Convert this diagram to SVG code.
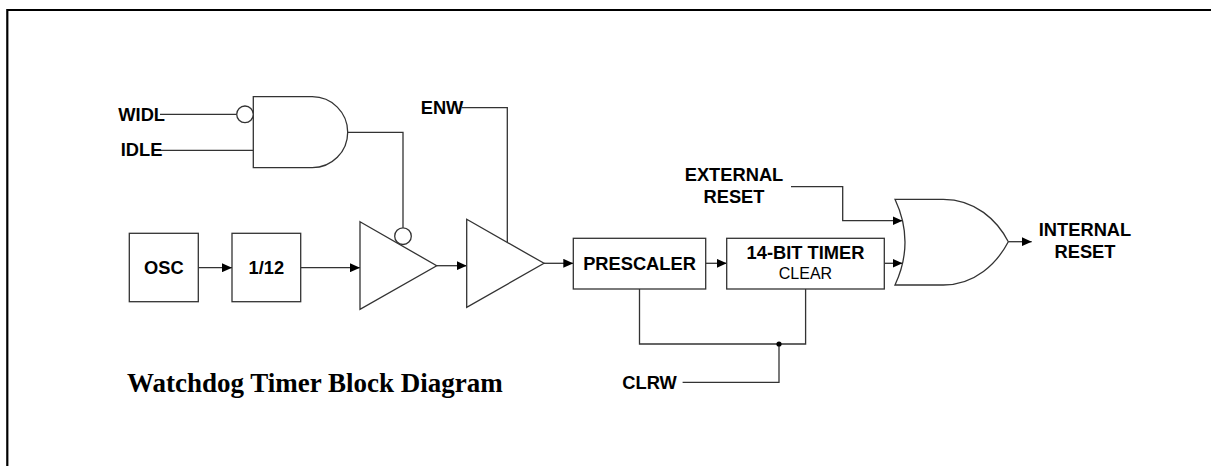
<svg xmlns="http://www.w3.org/2000/svg" width="1211" height="466" viewBox="0 0 1211 466">
  <style>
    .lbl { font-family: "Liberation Sans", Arial, sans-serif; font-weight: bold; font-size: 18.3px; fill: #000; }
    .sub { font-family: "Liberation Sans", Arial, sans-serif; font-size: 16px; fill: #000; }
    .title { font-family: "Liberation Serif", "Times New Roman", serif; font-weight: bold; font-size: 27px; fill: #000; }
    .shape { fill: #fff; stroke: #333; stroke-width: 1.3; }
    .wire { fill: none; stroke: #333; stroke-width: 1.3; }
    .arrow { fill: none; stroke: #333; stroke-width: 1.3; marker-end: url(#ah); }
  </style>
  <defs>
    <marker id="ah" markerUnits="userSpaceOnUse" markerWidth="10" markerHeight="9" refX="10" refY="4.5" orient="auto">
      <path d="M0,0 L10,4.5 L0,9 Z" fill="#000"/>
    </marker>
  </defs>
  <rect x="0" y="0" width="1211" height="466" fill="#fff"/>
  <path id="frame" d="M7.3,466 V10 H1211" fill="none" stroke="#000" stroke-width="2.2"/>

  <g id="connectors">
    <path class="wire" d="M160,114.3 H236.7"/>
    <path class="wire" d="M160,150.3 H253.3"/>
    <path class="wire" d="M347.7,132.3 H403 V227.7"/>
    <path class="wire" d="M461.7,107.7 H507.3 V242.4"/>
    <path class="arrow" d="M198.3,267.7 H232"/>
    <path class="arrow" d="M300.7,267.7 H360"/>
    <path class="arrow" d="M436.7,265.7 H466.7"/>
    <path class="arrow" d="M544,263.3 H573.3"/>
    <path class="arrow" d="M705.7,263.3 H726.7"/>
    <path class="arrow" d="M884.3,263.3 H902.5"/>
    <path class="arrow" d="M791,186.7 H842.7 V220.7 H902.5"/>
    <path class="arrow" d="M1008.3,241.7 H1031.7"/>
    <path class="wire" d="M639.5,289 V344 H805.6 V289"/>
    <path class="wire" d="M682.6,382.3 H779 V344"/>
    <circle cx="779" cy="344" r="2.6" fill="#000"/>
  </g>

  <g id="widl">
    <text class="lbl" x="118.3" y="121">WIDL</text>
  </g>
  <g id="idle">
    <text class="lbl" x="120.7" y="156">IDLE</text>
  </g>
  <g id="and-gate">
    <path class="shape" d="M253.3,96.7 H312.2 A35.5,35.5 0 0 1 312.2,167.7 H253.3 Z"/>
    <circle class="shape" cx="245" cy="114.3" r="8.3"/>
  </g>
  <g id="osc">
    <rect class="shape" x="129.3" y="233.3" width="69" height="68.4"/>
    <text class="lbl" x="163.8" y="273.8" text-anchor="middle">OSC</text>
  </g>
  <g id="div12">
    <rect class="shape" x="232" y="233.3" width="68.7" height="68.4"/>
    <text class="lbl" x="266.4" y="273.8" text-anchor="middle">1/12</text>
  </g>
  <g id="buffer1">
    <path class="shape" d="M360,221.7 L436.7,265.7 L360,309.3 Z"/>
    <circle class="shape" cx="403" cy="236.2" r="8.3"/>
  </g>
  <g id="enw">
    <text class="lbl" x="420.7" y="113.8">ENW</text>
  </g>
  <g id="buffer2">
    <path class="shape" d="M466.7,219.3 L544,263.3 L466.7,307.3 Z"/>
  </g>
  <g id="prescaler">
    <rect class="shape" x="573.3" y="238.3" width="132.4" height="50.7"/>
    <text class="lbl" x="639.5" y="270" text-anchor="middle">PRESCALER</text>
  </g>
  <g id="timer">
    <rect class="shape" x="726.7" y="238.3" width="157.6" height="50.7"/>
    <text class="lbl" x="805.5" y="259" text-anchor="middle">14-BIT TIMER</text>
    <text class="sub" x="805.5" y="279" text-anchor="middle">CLEAR</text>
  </g>
  <g id="external-reset">
    <text class="lbl" x="734" y="181" text-anchor="middle">EXTERNAL</text>
    <text class="lbl" x="734" y="203" text-anchor="middle">RESET</text>
  </g>
  <g id="or-gate">
    <path class="shape" d="M895,199.3 H943.3 C975,199.3 997,220 1008.3,241.7 C997,263.4 975,285 943.3,285 H895 Q915,242.1 895,199.3 Z"/>
  </g>
  <g id="internal-reset">
    <text class="lbl" x="1085" y="235.5" text-anchor="middle">INTERNAL</text>
    <text class="lbl" x="1085" y="258" text-anchor="middle">RESET</text>
  </g>
  <g id="clrw">
    <text class="lbl" x="622.3" y="389">CLRW</text>
  </g>
  <g id="title">
    <text class="title" x="127" y="392">Watchdog Timer Block Diagram</text>
  </g>
</svg>
